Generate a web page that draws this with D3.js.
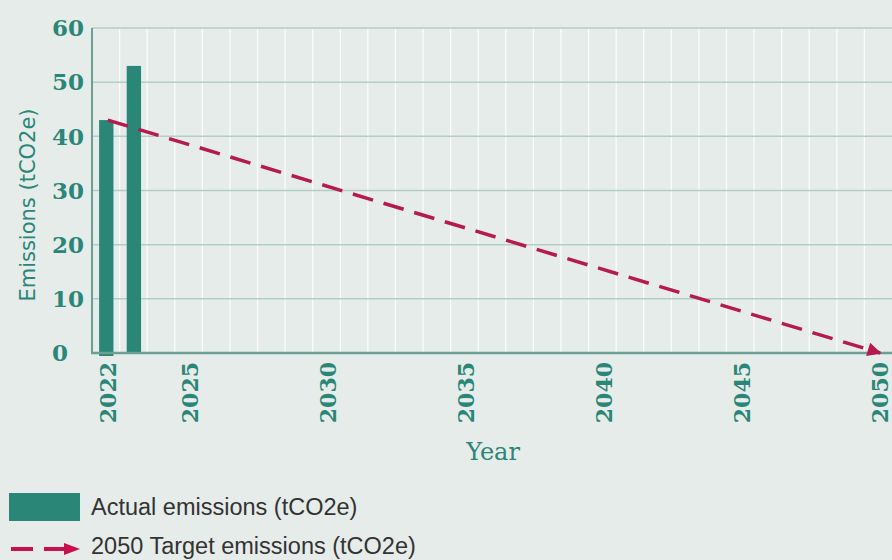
<!DOCTYPE html>
<html>
<head>
<meta charset="utf-8">
<script src="https://cdn.jsdelivr.net/npm/d3@7/dist/d3.min.js"></script>
<style>
  html, body { margin: 0; padding: 0; background: #e6ecea; }
  svg { display: block; }
</style>
</head>
<body>
<svg id="chart" width="892" height="560"></svg>
<script>
// Years on the x axis
const years = d3.range(2022, 2051);
// Actual emissions per year
const actualYears = [2022, 2023];
const actualValues = [43, 53];
// Target pathway: start and end points
const targetYears = [2022, 2050];
const targetValues = [43, 0];
// Labelled ticks
const xTickYears = [2022, 2025, 2030, 2035, 2040, 2045, 2050];
const yTicks = [0, 10, 20, 30, 40, 50, 60];

const teal = "#2a8676";
const crimson = "#b51a50";

const svg = d3.select("#chart");
const margin = { left: 92, right: 0, top: 28, bottom: 207 };
const W = 892, H = 560;

const x = d3.scaleBand().domain(years).range([margin.left, W - margin.right]).padding(0);
const y = d3.scaleLinear().domain([0, 60]).range([H - margin.bottom, margin.top]);

const defs = svg.append("defs");
defs.append("marker")
  .attr("id", "arrow")
  .attr("viewBox", "0 0 10 10")
  .attr("refX", 9).attr("refY", 5)
  .attr("markerWidth", 5).attr("markerHeight", 4)
  .attr("markerUnits", "strokeWidth")
  .attr("orient", "auto")
  .append("path").attr("d", "M0,0 L10,5 L0,10 z").attr("fill", crimson);

// vertical gridlines at year boundaries
svg.append("g").selectAll("line").data(years.slice(1))
  .join("line")
  .attr("x1", d => x(d)).attr("x2", d => x(d))
  .attr("y1", y(60)).attr("y2", y(0))
  .attr("stroke", "#ffffff").attr("stroke-width", 1.3).attr("opacity", 0.85);

// horizontal gridlines
svg.append("g").selectAll("line").data(yTicks.filter(d => d > 0))
  .join("line")
  .attr("x1", margin.left).attr("x2", W)
  .attr("y1", d => y(d)).attr("y2", d => y(d))
  .attr("stroke", "#b4cdc5").attr("stroke-width", 1.5);

// bars
const bw = x.bandwidth() * 0.52;
svg.append("g").selectAll("rect").data(actualYears.map((yr, i) => ({ yr, v: actualValues[i] })))
  .join("rect")
  .attr("x", d => x(d.yr) + x.bandwidth() / 2 - bw / 2 + 0.5)
  .attr("y", d => y(d.v))
  .attr("width", bw)
  .attr("height", d => y(0) - y(d.v) + (d.yr === 2022 ? 3 : 0))
  .attr("fill", teal);

// axes lines
svg.append("line").attr("x1", margin.left).attr("x2", margin.left)
  .attr("y1", y(60)).attr("y2", y(0) + 1)
  .attr("stroke", "#6c9f94").attr("stroke-width", 2);
svg.append("line").attr("x1", margin.left - 1).attr("x2", W)
  .attr("y1", y(0)).attr("y2", y(0))
  .attr("stroke", "#6c9f94").attr("stroke-width", 2.5);

// target line
const line = d3.line().x(d => x(d[0]) + x.bandwidth() / 2 + 2).y(d => y(d[1]));
svg.append("path")
  .datum(targetYears.map((yr, i) => [yr, targetValues[i]]))
  .attr("d", line)
  .attr("fill", "none")
  .attr("stroke", crimson).attr("stroke-width", 3.5)
  .attr("stroke-dasharray", "21,11")
  .attr("marker-end", "url(#arrow)");

// y tick labels
svg.append("g").selectAll("text").data(yTicks)
  .join("text")
  .attr("x", 52).attr("y", d => y(d))
  .attr("dy", "0.36em")
  .attr("text-anchor", "start")
  .attr("font-family", "'DejaVu Serif', serif")
  .attr("font-weight", "bold")
  .attr("font-size", 23)
  .attr("fill", teal)
  .text(d => d);

// x tick labels
svg.append("g").selectAll("text").data(xTickYears)
  .join("text")
  .attr("transform", d => `translate(${x(d) + x.bandwidth() / 2 + 2},${y(0) + 9}) rotate(-90)`)
  .attr("dy", "0.36em")
  .attr("text-anchor", "end")
  .attr("font-family", "'DejaVu Serif', serif")
  .attr("font-weight", "bold")
  .attr("font-size", 22)
  .attr("fill", teal)
  .text(d => d);

// axis titles
svg.append("text")
  .attr("x", 493).attr("y", 460)
  .attr("text-anchor", "middle")
  .attr("font-family", "'DejaVu Serif', serif")
  .attr("font-size", 24)
  .attr("fill", teal)
  .text("Year");

svg.append("text")
  .attr("transform", "translate(35,205) rotate(-90)")
  .attr("text-anchor", "middle")
  .attr("font-family", "'DejaVu Sans', sans-serif")
  .attr("font-size", 21)
  .attr("fill", teal)
  .text("Emissions (tCO2e)");

// legend
const lg = svg.append("g").attr("font-family", "'Liberation Sans', Arial, sans-serif")
  .attr("font-size", 23.5).attr("fill", "#333333");
lg.append("rect").attr("x", 9).attr("y", 493).attr("width", 71).attr("height", 28).attr("fill", teal);
lg.append("text").attr("x", 91).attr("y", 515).text("Actual emissions (tCO2e)");
lg.append("line").attr("x1", 11).attr("x2", 33).attr("y1", 549).attr("y2", 549)
  .attr("stroke", "#c8104f").attr("stroke-width", 4);
lg.append("line").attr("x1", 44).attr("x2", 68).attr("y1", 549).attr("y2", 549)
  .attr("stroke", "#c8104f").attr("stroke-width", 4);
lg.append("path").attr("d", "M64,543 L80,549 L64,555 Z").attr("fill", "#c8104f");
lg.append("text").attr("x", 91).attr("y", 554).text("2050 Target emissions (tCO2e)");
</script>
</body>
</html>
